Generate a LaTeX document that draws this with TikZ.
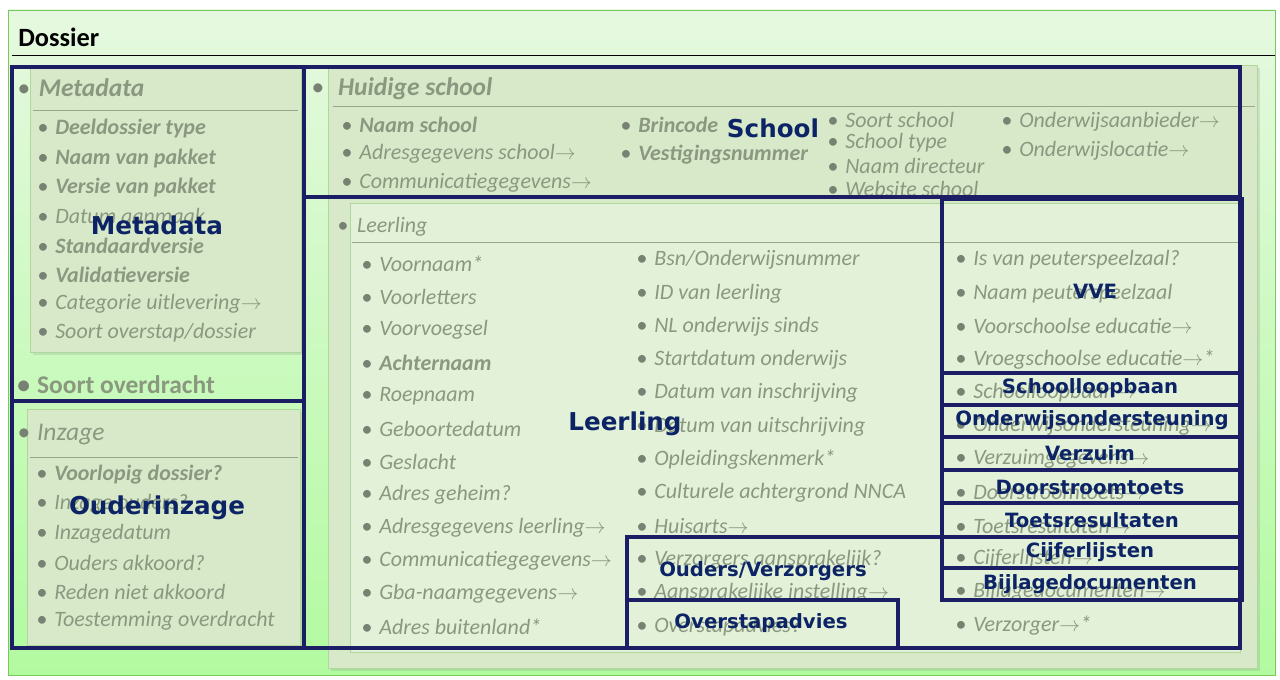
\documentclass[tikz,border=0pt]{standalone}
\usepackage{fontspec}
\setmainfont{Carlito}
\newfontfamily\navyfont{DejaVu Sans}
\usetikzlibrary{positioning, shadows}

\definecolor{navy}{RGB}{27,30,100}
\definecolor{navytxt}{RGB}{12,36,102}
\definecolor{itemgray}{RGB}{138,152,128}
\definecolor{bulgray}{RGB}{120,130,115}
\definecolor{bgtop}{RGB}{230,249,224}
\definecolor{bgbot}{RGB}{178,250,160}
\definecolor{panelfill}{RGB}{216,233,201}
\definecolor{panelline}{RGB}{175,215,155}
\definecolor{leerfill}{RGB}{227,241,217}
\definecolor{outerline}{RGB}{120,200,90}
\definecolor{ruleline}{RGB}{150,168,140}

\newcommand{\refto}{$\rightarrow$}
\newcommand{\itm}[1]{{\color{bulgray}\textbullet}\hspace{4pt}#1}

\begin{document}
\begin{tikzpicture}[
    x=0.02cm, y=-0.02cm,
    item/.style={anchor=west, inner sep=0pt, text=itemgray, font=\fontsize{12.5}{14}\selectfont\itshape},
    title/.style={anchor=west, inner sep=0pt, text=itemgray, font=\fontsize{14.5}{16}\selectfont\itshape},
    panel/.style={fill=panelfill, draw=panelline, drop shadow={opacity=0.2, shadow xshift=1.5pt, shadow yshift=-1.5pt}},
    frame/.style={draw=navy, line width=2pt},
    biglabel/.style={text=navytxt, font=\navyfont\bfseries\fontsize{14}{16}\selectfont, inner sep=0pt},
    smalllabel/.style={text=navytxt, font=\navyfont\bfseries\fontsize{11.2}{13}\selectfont, inner sep=0pt}
]
    \useasboundingbox (0,0) rectangle (1280,679);

    % background of the dossier
    \shade[top color=bgtop, bottom color=bgbot, draw=outerline] (8,10) rectangle (1275,675);
    \node[anchor=west, inner sep=0pt, font=\fontsize{15}{17}\selectfont\bfseries] (dossier) at (18,37) {Dossier};
    \draw (12,55) -- (1275,55);

    % left column
    \fill[panel] (30,68) rectangle (301,352);
    \node[title] (metatitle) at (17,88) {\itm{\hspace{1pt}\bfseries Metadata}};
    \draw[ruleline] (33,110) -- (298,110);
    \foreach \txt [count=\i from 0] in {{\bfseries Deeldossier type}, {\bfseries Naam van pakket},
        {\bfseries Versie van pakket}, Datum aanmaak, {\bfseries Standaardversie},
        {\bfseries Validatieversie}, Categorie uitlevering\refto, Soort overstap/dossier}
        \node[item] (meta-\i) at (37,129+29.1*\i) {\itm{\txt}};

    \node[anchor=west, inner sep=0pt, text=itemgray, font=\fontsize{14.5}{16}\selectfont\bfseries] (overdracht) at (17,385) {\itm{Soort overdracht}};

    \fill[panel] (27,409) rectangle (300,645);
    \node[title] (inzagetitle) at (17,435) {\itm{Inzage}};
    \draw[ruleline] (30,457) -- (298,457);
    \foreach \txt [count=\i from 0] in {{\bfseries Voorlopig dossier?}, Inzage ouders?, Inzagedatum,
        Ouders akkoord?, Reden niet akkoord, Toestemming overdracht}
        \node[item] (inzage-\i) at (36,475+29.2*\i) {\itm{\txt}};

    % huidige school
    \fill[panel] (328,65) rectangle (1257,668);
    \node[title] (schooltitle) at (311,89) {\itm{\hspace{4pt}\bfseries Huidige school}};
    \draw[ruleline] (333,106) -- (1255,106);
    \foreach \txt [count=\i from 0] in {{\bfseries Naam school}, Adresgegevens school\refto, Communicatiegegevens\refto}
        \node[item] (school-a\i) at (341,125+29*\i) {\itm{\txt}};
    \foreach \txt [count=\i from 0] in {{\bfseries Brincode}, {\bfseries Vestigingsnummer}}
        \node[item] (school-b\i) at (620,125+30*\i) {\itm{\txt}};
    \foreach \txt [count=\i from 0] in {Soort school, School type, Naam directeur, Website school}
        \node[item] (school-c\i) at (827,120+23*\i) {\itm{\txt}};
    \foreach \txt [count=\i from 0] in {Onderwijsaanbieder\refto, Onderwijslocatie\refto}
        \node[item] (school-d\i) at (1001,122+29*\i) {\itm{\txt}};

    % leerling
    \filldraw[fill=leerfill, draw=panelline] (350,203) rectangle (1240,652);
    \node[item] (leertitle) at (337,227) {\itm{\hspace{1pt}Leerling}};
    \draw[ruleline] (352,242) -- (1240,242);
    \foreach \txt [count=\i from 0] in {Voornaam*, Voorletters, Voorvoegsel, {\bfseries Achternaam},
        Roepnaam, Geboortedatum, Geslacht, Adres geheim?, Adresgegevens leerling\refto,
        Communicatiegegevens\refto, Gba-naamgegevens\refto, Adres buitenland*}
        \node[item] (leer-a\i) at (361,264+33*\i) {\itm{\txt}};
    \foreach \txt [count=\i from 0] in {Bsn/Onderwijsnummer, ID van leerling, NL onderwijs sinds,
        Startdatum onderwijs, Datum van inschrijving, Datum van uitschrijving, Opleidingskenmerk*,
        Culturele achtergrond NNCA, Huisarts\refto, Verzorgers aansprakelijk?,
        Aansprakelijke instelling\refto, Overstapadvies?}
        \node[item] (leer-b\i) at (636,260+33.3*\i) {\itm{\txt}};
    \foreach \txt [count=\i from 0] in {Is van peuterspeelzaal?, Naam peuterspeelzaal,
        Voorschoolse educatie\refto, Vroegschoolse educatie\refto*, Schoolloopbaan\refto,
        Onderwijsondersteuning\refto, Verzuimgegevens\refto, Doorstroomtoets\refto,
        Toetsresultaten\refto, Cijferlijsten\refto, Bijlagedocumenten\refto, Verzorger\refto*}
        \node[item] (leer-c\i) at (955,260+33.2*\i) {\itm{\txt}};

    % navy frames
    \draw[frame] (12,67) rectangle (304,401);
    \draw[frame] (12,401) rectangle (304,648);
    \draw[frame] (304,67) rectangle (1240,197);
    \draw[frame] (304,197) rectangle (1240,648);
    \draw[frame] (942,199) rectangle (1242,373);
    \foreach \ya/\yb in {373/405, 405/437, 437/470, 470/503, 503/537, 537/568, 568/600}
        \draw[frame] (942,\ya) rectangle (1242,\yb);
    \draw[frame] (627,600) -- (627,537) -- (942,537) -- (942,600);
    \draw[frame] (627,600) rectangle (898,648);

    % labels
    \node[biglabel] (lbl-meta) at (157,225) {Metadata};
    \node[biglabel] (lbl-inzage) at (157,508) {Ouderinzage};
    \node[biglabel] (lbl-school) at (773,128) {School};
    \node[biglabel] (lbl-leer) at (625,424) {Leerling};
    \node[smalllabel] (lbl-vve) at (1095,291) {VVE};
    \node[smalllabel] (lbl-loop) at (1090,388) {Schoolloopbaan};
    \node[smalllabel] (lbl-ond) at (1092,420) {Onderwijsondersteuning};
    \node[smalllabel] (lbl-verz) at (1090,453) {Verzuim};
    \node[smalllabel] (lbl-door) at (1090,487) {Doorstroomtoets};
    \node[smalllabel] (lbl-toets) at (1092,520) {Toetsresultaten};
    \node[smalllabel] (lbl-cijf) at (1090,552) {Cijferlijsten};
    \node[smalllabel] (lbl-bijl) at (1090,584) {Bijlagedocumenten};
    \node[smalllabel] (lbl-ouders) at (763,571) {Ouders/Verzorgers};
    \node[smalllabel] (lbl-overstap) at (761,623) {Overstapadvies};
\end{tikzpicture}
\end{document}
